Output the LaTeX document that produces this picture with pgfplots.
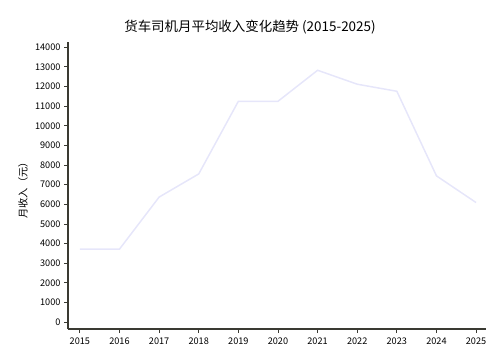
\documentclass[border=0pt]{standalone}
\usepackage{pgfplots}
\pgfplotsset{compat=1.18}
\usepackage{fontspec}
\setmainfont{Noto Sans CJK SC}
\definecolor{linec}{HTML}{E6E6FA}
\definecolor{spine}{HTML}{3A3A32}
\begin{document}
\begin{tikzpicture}
\path[use as bounding box] (-68bp,-35bp) rectangle (432bp,329bp);
\begin{axis}[
  scale only axis,
  width=418bp, height=287bp,
  xmin=2014.7, xmax=2025.25,
  ymin=-350, ymax=14270,
  axis lines*=left,
  axis line style={spine, line width=1.2pt},
  xtick={2015,...,2025},
  ytick={0,1000,...,14000},
  tick align=outside,
  major tick length=4bp,
  tick style={spine, line width=0.9pt},
  xticklabel style={font=\fontsize{9.2}{11}\selectfont, yshift=-1bp},
  yticklabel style={font=\fontsize{9.2}{11}\selectfont, xshift=0bp},
  /pgf/number format/assume math mode=true,
  /pgf/number format/1000 sep={},
  scaled y ticks=false,
  clip=false,
]
\addplot[linec, line width=1.5bp] coordinates {
(2015,3720) (2016,3720) (2017,6370) (2018,7550) (2019,11250) (2020,11250)
(2021,12830) (2022,12120) (2023,11760) (2024,7450) (2025,6090)};
\end{axis}
\node[font=\fontsize{13.5}{15}\selectfont] at (182bp,302bp) {货车司机月平均收入变化趋势 (2015-2025)};
\node[font=\fontsize{10.2}{12}\selectfont, rotate=90] at (-45bp,141bp) {月收入（元）};
\end{tikzpicture}
\end{document}
